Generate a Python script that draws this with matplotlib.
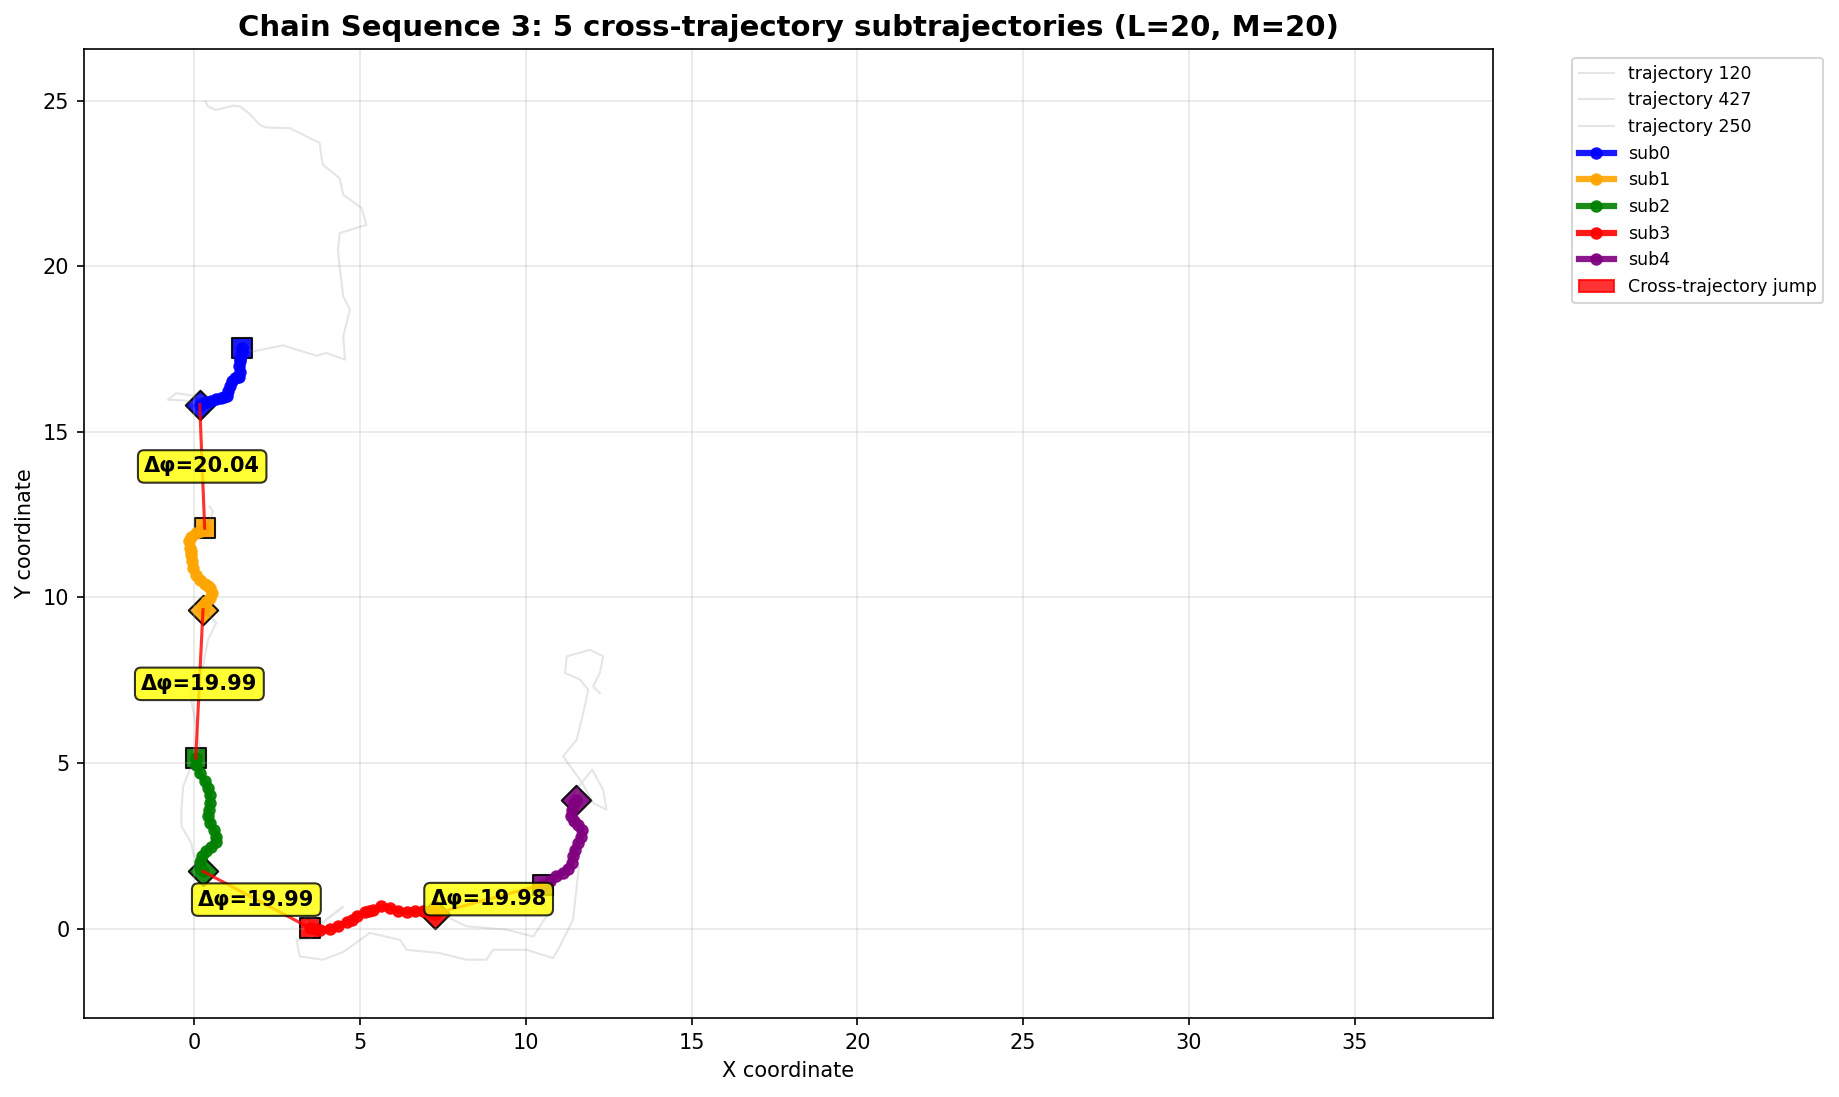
import numpy as np
import matplotlib
matplotlib.use("Agg")
import matplotlib.pyplot as plt
from matplotlib.patches import Patch

# subtrajectories (x, y)
sub0_x = [1.44, 1.44, 1.42, 1.39, 1.37, 1.35, 1.39, 1.35, 1.27, 1.22, 1.12, 1.07, 1.02, 0.97, 0.88, 0.81, 0.66, 0.51, 0.36, 0.16]
sub0_y = [17.53, 17.43, 17.28, 17.20, 17.13, 16.98, 16.82, 16.67, 16.65, 16.62, 16.52, 16.37, 16.22, 16.09, 16.05, 16.02, 15.99, 15.94, 15.89, 15.82]

sub1_x = [0.31, 0.21, 0.06, -0.09, -0.16, -0.14, -0.11, -0.09, -0.06, -0.04, 0.04, 0.16, 0.31, 0.41, 0.46, 0.53, 0.48, 0.36, 0.28, 0.26]
sub1_y = [12.09, 12.02, 11.94, 11.82, 11.69, 11.49, 11.39, 11.29, 11.09, 10.89, 10.69, 10.53, 10.41, 10.33, 10.28, 10.13, 9.98, 9.85, 9.73, 9.63]

sub2_x = [0.04, 0.06, 0.16, 0.31, 0.41, 0.46, 0.48, 0.44, 0.41, 0.48, 0.58, 0.66, 0.64, 0.51, 0.36, 0.24, 0.16, 0.18, 0.26]
sub2_y = [5.15, 4.95, 4.70, 4.45, 4.24, 4.04, 3.79, 3.59, 3.39, 3.19, 2.99, 2.78, 2.60, 2.45, 2.33, 2.18, 2.00, 1.83, 1.73]

sub3_x = [3.48, 3.63, 3.78, 4.08, 4.33, 4.59, 4.74, 4.89, 5.14, 5.27, 5.39, 5.64, 5.89, 6.15, 6.40, 6.65, 6.90, 7.15, 7.25]
sub3_y = [0.02, -0.01, -0.03, -0.01, 0.07, 0.19, 0.27, 0.37, 0.49, 0.54, 0.57, 0.67, 0.62, 0.54, 0.49, 0.52, 0.54, 0.47, 0.45]

sub4_x = [10.50, 10.72, 10.92, 11.12, 11.27, 11.38, 11.43, 11.48, 11.58, 11.66, 11.68, 11.58, 11.45, 11.35, 11.38, 11.45, 11.51]
sub4_y = [1.33, 1.43, 1.58, 1.68, 1.80, 1.98, 2.18, 2.38, 2.58, 2.78, 2.99, 3.14, 3.24, 3.39, 3.59, 3.79, 3.89]

sub_names = ["sub0", "sub1", "sub2", "sub3", "sub4"]
sub_colors = ["blue", "orange", "green", "red", "purple"]
subs_x = [sub0_x, sub1_x, sub2_x, sub3_x, sub4_x]
subs_y = [sub0_y, sub1_y, sub2_y, sub3_y, sub4_y]

# phase differences at the jumps
dphi = [20.04, 19.99, 19.99, 19.98]

# full trajectories (grey background): pieces outside the subtrajectories
t120_head = [(0.34, 24.97), (0.41, 24.83), (0.64, 24.72), (1.17, 24.85), (1.37, 24.83), (1.67, 24.60),
             (1.97, 24.27), (2.17, 24.19), (2.88, 24.17), (3.08, 24.07), (3.78, 23.72), (3.83, 23.30),
             (3.88, 23.06), (4.38, 22.66), (4.49, 22.16), (5.04, 21.76), (5.19, 21.25), (4.38, 21.00),
             (4.33, 20.50), (4.38, 19.99), (4.49, 19.09), (4.69, 18.69), (4.49, 17.88), (4.54, 17.18),
             (3.98, 17.38), (3.68, 17.30), (2.67, 17.61), (1.77, 17.43)]
t120_tail = [(-0.30, 15.95), (-0.80, 15.97), (-0.54, 16.17), (-0.10, 16.10), (0.40, 16.05), (0.10, 15.90)]

t427_head = [(0.45, 12.75), (0.56, 12.60), (0.45, 12.30)]
t427_mid = [(0.66, 9.23), (0.41, 8.72), (0.26, 7.92), (-0.14, 7.11), (0.06, 6.10), (0.16, 5.50)]
t427_tail = [(0.16, 1.88), (-0.04, 2.28), (-0.09, 2.58), (-0.39, 3.09), (-0.39, 3.60), (-0.34, 4.29),
             (-0.14, 4.80), (0.10, 5.30)]

t250_head = [(11.60, 1.90), (11.42, 0.27), (11.02, -0.54), (10.82, -0.89), (10.02, -0.64), (9.01, -0.64),
             (8.81, -0.94), (8.20, -0.94), (7.40, -0.74), (6.40, -0.64), (6.20, -0.34), (5.29, -0.13),
             (4.50, -0.70), (3.88, -0.94), (3.18, -0.84), (3.08, -0.34), (3.50, -0.30), (4.00, 0.30),
             (4.48, 0.65), (3.90, 0.20), (3.30, 0.40)]
t250_mid = [(7.60, 0.37), (8.20, 0.07), (9.41, -0.03), (10.22, -0.24), (10.62, 0.37)]
t250_tail = [(11.60, 4.30), (12.00, 4.80), (12.33, 4.19), (12.43, 3.59), (12.03, 3.79), (11.70, 4.40),
             (11.12, 5.20), (11.53, 5.70), (11.73, 6.51), (11.88, 7.21), (11.63, 7.52), (11.18, 7.72),
             (11.23, 8.22), (11.93, 8.42), (12.33, 8.22), (12.23, 7.72), (12.03, 7.31), (12.23, 7.11)]


def pts(xs, ys):
    return list(zip(xs, ys))


traj = {
    "trajectory 120": np.array(t120_head + pts(sub0_x, sub0_y) + t120_tail),
    "trajectory 427": np.array(t427_head + pts(sub1_x, sub1_y) + t427_mid + pts(sub2_x, sub2_y) + t427_tail),
    "trajectory 250": np.array(t250_head + pts(sub3_x, sub3_y) + t250_mid + pts(sub4_x, sub4_y) + t250_tail),
}

fig, ax = plt.subplots(figsize=(1839 / 150, 1097 / 150), dpi=150)
fig.subplots_adjust(left=84 / 1839, right=1493 / 1839, bottom=1 - 1018 / 1097, top=1 - 49 / 1097)

# background trajectories
for name, arr in traj.items():
    ax.plot(arr[:, 0], arr[:, 1], color="gray", alpha=0.2, linewidth=1, label=name)

# subtrajectories with start (square) / end (diamond)
for name, c, xs, ys in zip(sub_names, sub_colors, subs_x, subs_y):
    ax.plot(xs, ys, color=c, linewidth=3, marker="o", markersize=5, alpha=0.9, label=name)
    ax.scatter(xs[0], ys[0], marker="s", s=100, color=c, edgecolors="black", linewidths=1, alpha=0.9)
    ax.scatter(xs[-1], ys[-1], marker="D", s=100, color=c, edgecolors="black", linewidths=1, alpha=0.9)

# cross-trajectory jumps
for i, d in enumerate(dphi):
    x0, y0 = subs_x[i][-1], subs_y[i][-1]
    x1, y1 = subs_x[i + 1][0], subs_y[i + 1][0]
    ax.plot([x0, x1], [y0, y1], color="red", linewidth=1.5, alpha=0.8)
    ax.text((x0 + x1) / 2, (y0 + y1) / 2, f"Δφ={d:.2f}", ha="center", va="center",
            fontsize=10, fontweight="bold",
            bbox=dict(boxstyle="round,pad=0.3", facecolor="yellow", edgecolor="black", alpha=0.8))

ax.set_xlim(-3.33, 39.17)
ax.set_ylim(-2.70, 26.56)
ax.set_xlabel("X coordinate")
ax.set_ylabel("Y coordinate")
ax.set_title("Chain Sequence 3: 5 cross-trajectory subtrajectories (L=20, M=20)",
             fontsize=14, fontweight="bold")
ax.grid(True, alpha=0.3)

handles, labels = ax.get_legend_handles_labels()
handles.append(Patch(facecolor="red", edgecolor="red", alpha=0.8))
labels.append("Cross-trajectory jump")
ax.legend(handles, labels, bbox_to_anchor=(1.05, 1), loc="upper left", fontsize="small")

fig.savefig("out.png", dpi=150)
